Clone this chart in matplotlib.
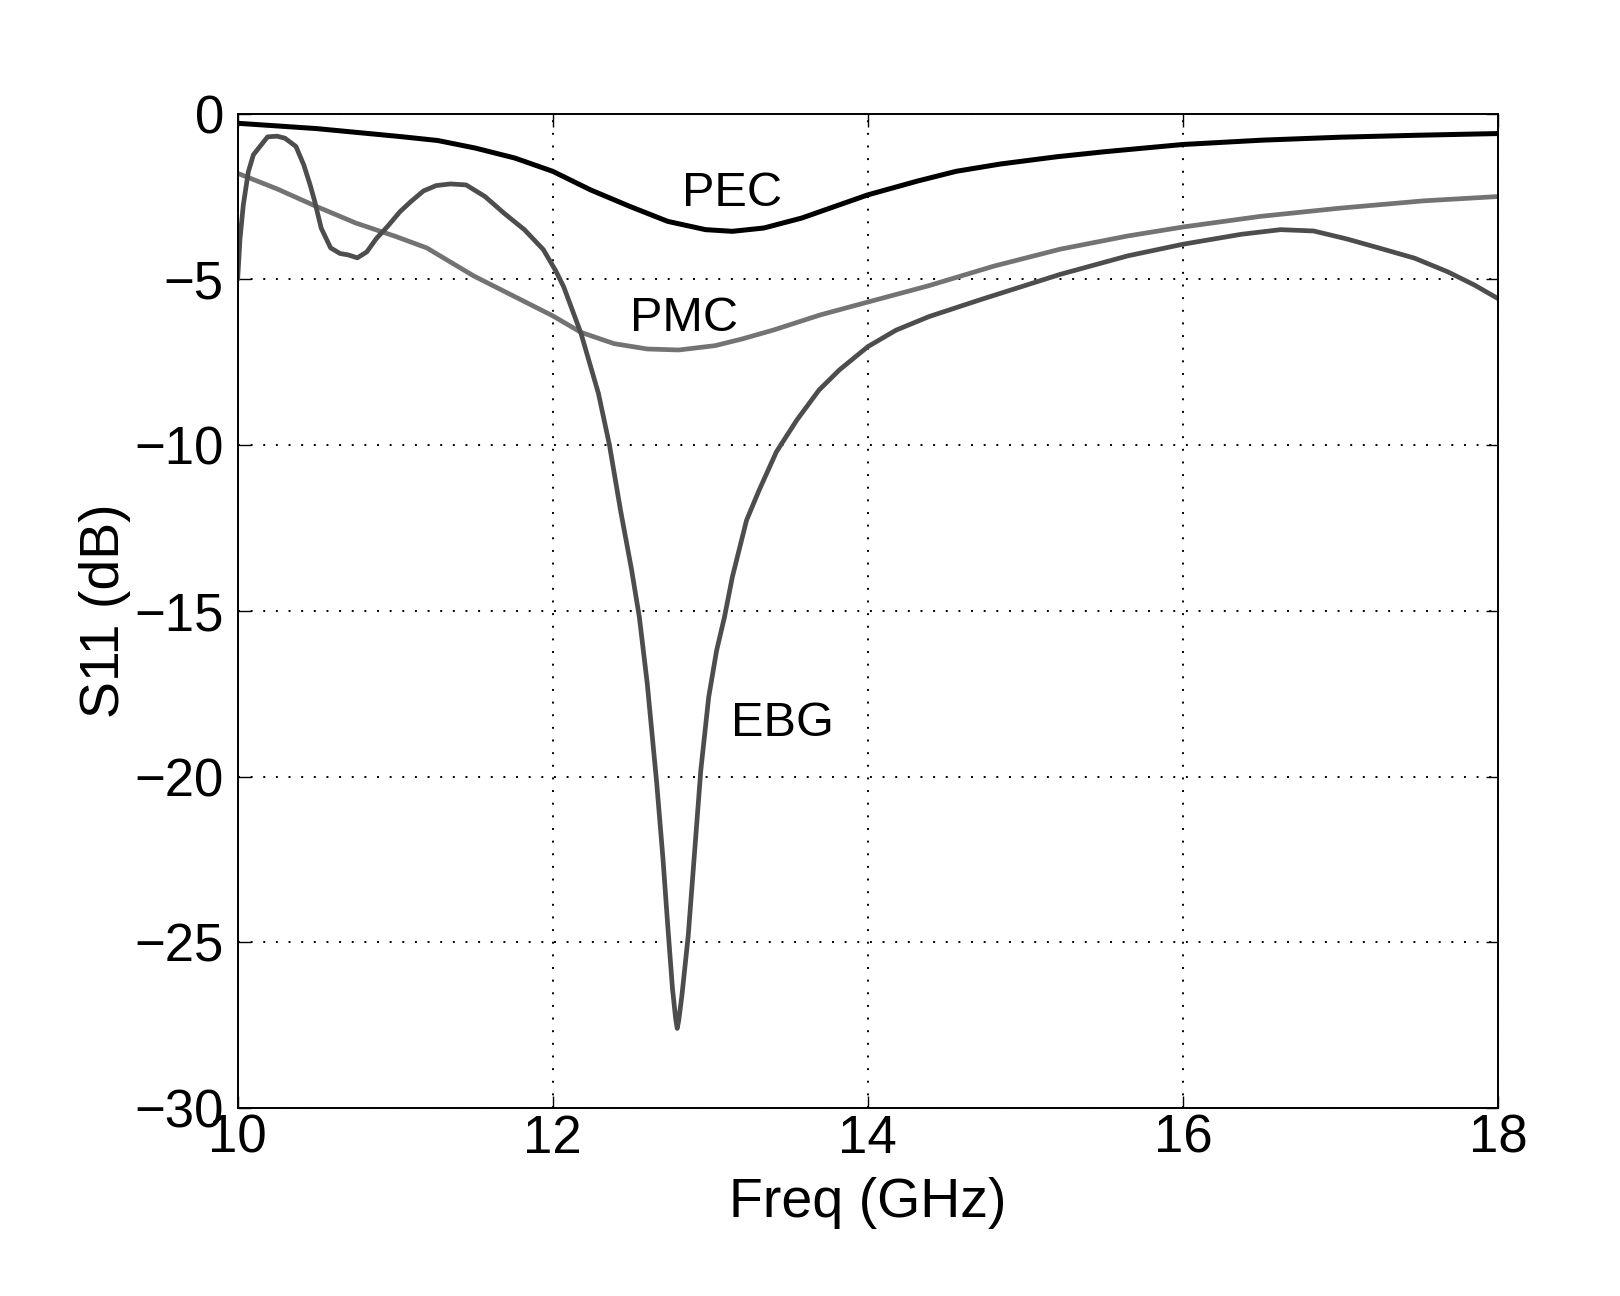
import matplotlib
matplotlib.use("Agg")
import matplotlib.pyplot as plt

# ---- data ----
pec_f = [10.0, 10.5, 11.03, 11.27, 11.51, 11.76, 12.0, 12.24, 12.49, 12.73, 12.97,
         13.14, 13.34, 13.58, 13.82, 14.0, 14.31, 14.56, 14.84, 15.2, 15.5, 16.0,
         16.5, 17.0, 17.5, 18.0]
pec_s = [-0.29, -0.45, -0.69, -0.81, -1.04, -1.34, -1.74, -2.3, -2.8, -3.25, -3.5,
         -3.55, -3.45, -3.15, -2.75, -2.45, -2.04, -1.74, -1.52, -1.3, -1.15, -0.93,
         -0.8, -0.71, -0.65, -0.6]

pmc_f = [10.0, 10.25, 10.5, 10.75, 11.0, 11.2, 11.5, 11.75, 12.0, 12.18, 12.39,
         12.6, 12.8, 13.03, 13.2, 13.4, 13.7, 14.05, 14.38, 14.8, 15.22, 15.65,
         16.0, 16.49, 17.0, 17.53, 18.0]
pmc_s = [-1.8, -2.27, -2.8, -3.3, -3.7, -4.05, -4.9, -5.5, -6.1, -6.6, -6.94,
         -7.1, -7.13, -7.0, -6.8, -6.53, -6.07, -5.62, -5.2, -4.6, -4.09, -3.69,
         -3.42, -3.1, -2.85, -2.63, -2.5]

ebg_f = [10.0, 10.015, 10.036, 10.068, 10.10, 10.14, 10.19, 10.25, 10.30, 10.37,
         10.42, 10.46, 10.49, 10.53, 10.59, 10.65, 10.70, 10.76, 10.82, 10.88,
         10.95, 11.03, 11.10, 11.18, 11.26, 11.35, 11.45, 11.57, 11.69, 11.82,
         11.94, 12.02, 12.07, 12.18, 12.29, 12.36, 12.43, 12.50, 12.55, 12.60,
         12.66, 12.70, 12.73, 12.76, 12.78, 12.79, 12.80, 12.82, 12.86, 12.90,
         12.94, 12.99, 13.04, 13.09, 13.14, 13.23, 13.31, 13.42, 13.55, 13.69,
         13.82, 14.0, 14.18, 14.39, 14.71, 15.22, 15.65, 16.0, 16.37, 16.62,
         16.83, 17.04, 17.25, 17.47, 17.68, 17.85, 18.0]
ebg_s = [-5.0, -3.77, -2.75, -1.75, -1.24, -1.0, -0.7, -0.68, -0.74, -0.99,
         -1.55, -2.15, -2.66, -3.45, -4.05, -4.22, -4.26, -4.35, -4.17, -3.77,
         -3.41, -2.96, -2.65, -2.33, -2.17, -2.12, -2.15, -2.5, -3.0, -3.5,
         -4.1, -4.75, -5.23, -6.64, -8.44, -10.0, -11.96, -13.75, -15.2, -17.2,
         -20.2, -22.5, -24.5, -26.4, -27.3, -27.6, -27.35, -26.6, -24.8, -22.3,
         -19.8, -17.6, -16.2, -15.19, -13.98, -12.27, -11.36, -10.2, -9.24, -8.34,
         -7.73, -7.03, -6.53, -6.12, -5.62, -4.85, -4.29, -3.94, -3.64, -3.5,
         -3.54, -3.78, -4.06, -4.36, -4.77, -5.17, -5.58]

x_ticks = [10, 12, 14, 16, 18]
y_ticks = [0, -5, -10, -15, -20, -25, -30]

labels = ["PEC", "PMC", "EBG"]
label_pos = [(13.14, -2.4), (12.83, -6.17), (13.46, -18.4)]

# ---- figure ----
plt.rcParams['font.family'] = ['Liberation Sans', 'DejaVu Sans']
fig = plt.figure(figsize=(16.2, 12.96), dpi=100)
ax = fig.add_axes([0.1467, 0.1451, 0.7780, 0.7672])

ax.plot(pmc_f, pmc_s, color='#737373', lw=3.4, solid_joinstyle='round',
        solid_capstyle='round')
ax.plot(ebg_f, ebg_s, color='#4d4d4d', lw=3.4, solid_joinstyle='round',
        solid_capstyle='round')
ax.plot(pec_f, pec_s, color='black', lw=3.6, solid_joinstyle='round',
        solid_capstyle='round')

ax.set_xlim(10, 18)
ax.set_ylim(-30, 0)
ax.set_xticks(x_ticks)
ax.set_yticks(y_ticks)
ax.grid(True, color='black', linestyle=(0, (1, 5.5)), linewidth=1.4)
ax.set_axisbelow(True)

ax.tick_params(direction='in', length=9, width=1.0, top=True, right=True,
               labelsize=38)
ax.tick_params(axis='x', pad=4)
ax.tick_params(axis='y', pad=10)
for s in ax.spines.values():
    s.set_linewidth(1.4)

ax.set_xlabel("Freq (GHz)", fontsize=40, labelpad=10)
ax.set_ylabel("S11 (dB)", fontsize=40, labelpad=2)

for t, (xx, yy) in zip(labels, label_pos):
    ax.text(xx, yy, t, fontsize=35, ha='center', va='center')

fig.savefig("out.png", dpi=100, facecolor='white')
